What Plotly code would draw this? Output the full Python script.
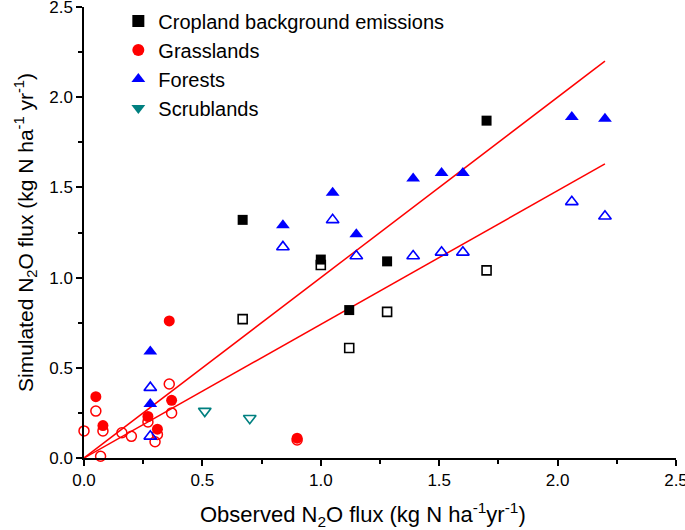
import plotly.graph_objects as go

# ---- data ----
crop_obs = [0.67, 1.00, 1.12, 1.28, 1.70]
crop_sim_filled = [1.32, 1.10, 0.82, 1.09, 1.87]
crop_sim_open = [0.77, 1.07, 0.61, 0.81, 1.04]

grass_obs_filled = [0.05, 0.08, 0.27, 0.31, 0.36, 0.37, 0.90]
grass_sim_filled = [0.34, 0.18, 0.23, 0.16, 0.76, 0.32, 0.11]
grass_obs_open = [0.00, 0.05, 0.08, 0.07, 0.16, 0.20, 0.27, 0.30, 0.31, 0.36, 0.37, 0.90]
grass_sim_open = [0.15, 0.26, 0.15, 0.01, 0.14, 0.12, 0.20, 0.09, 0.13, 0.41, 0.25, 0.10]

forest_obs = [0.28, 0.28, 0.84, 1.05, 1.15, 1.39, 1.51, 1.60, 2.06, 2.20]
forest_sim_filled = [0.59, 0.30, 1.29, 1.47, 1.24, 1.55, 1.58, 1.58, 1.89, 1.88]
forest_sim_open = [0.39, 0.12, 1.17, 1.32, 1.12, 1.12, 1.14, 1.14, 1.42, 1.34]

scrub_obs = [0.51, 0.70]
scrub_sim = [0.26, 0.22]

fit_x = [0.0, 2.2]
fit1_y = [0.0, 2.2]
fit2_y = [0.0, 1.63]

tick_vals = [0.0, 0.5, 1.0, 1.5, 2.0, 2.5]
tick_text = ["0.0", "0.5", "1.0", "1.5", "2.0", "2.5"]

x_title = "Observed N<sub>2</sub>O flux (kg N ha<sup>-1</sup>yr<sup>-1</sup>)"
y_title = "Simulated N<sub>2</sub>O flux (kg N ha<sup>-1</sup> yr<sup>-1</sup>)"

RED = "#ff0000"
BLUE = "#0000ff"
TEAL = "#008080"
FONT = "Liberation Sans, Arial, sans-serif"

fig = go.Figure()

# regression lines
fig.add_trace(go.Scatter(x=fit_x, y=fit1_y, mode="lines", line=dict(color=RED, width=1.5),
                         showlegend=False, hoverinfo="skip"))
fig.add_trace(go.Scatter(x=fit_x, y=fit2_y, mode="lines", line=dict(color=RED, width=1.5),
                         showlegend=False, hoverinfo="skip"))

# Cropland
fig.add_trace(go.Scatter(x=crop_obs, y=crop_sim_open, mode="markers", showlegend=False,
                         marker=dict(symbol="square-open", size=9, color="black", line=dict(width=1.6, color="black"))))
fig.add_trace(go.Scatter(x=crop_obs, y=crop_sim_filled, mode="markers", name="Cropland background emissions",
                         marker=dict(symbol="square", size=10, color="black")))

# Grasslands
fig.add_trace(go.Scatter(x=grass_obs_filled, y=grass_sim_filled, mode="markers", name="Grasslands",
                         marker=dict(symbol="circle", size=11, color=RED), cliponaxis=False))
fig.add_trace(go.Scatter(x=grass_obs_open, y=grass_sim_open, mode="markers", showlegend=False,
                         marker=dict(symbol="circle-open", size=10, color=RED, line=dict(width=1.5, color=RED)),
                         cliponaxis=False))

# Forests
fig.add_trace(go.Scatter(x=forest_obs, y=forest_sim_filled, mode="markers", name="Forests",
                         marker=dict(symbol="triangle-up", size=12, color=BLUE)))
fig.add_trace(go.Scatter(x=forest_obs, y=forest_sim_open, mode="markers", showlegend=False,
                         marker=dict(symbol="triangle-up-open", size=11, color=BLUE, line=dict(width=1.6, color=BLUE))))

# Scrublands
fig.add_trace(go.Scatter(x=scrub_obs, y=scrub_sim, mode="markers", showlegend=False,
                         marker=dict(symbol="triangle-down-open", size=11, color=TEAL, line=dict(width=1.6, color=TEAL))))
fig.add_trace(go.Scatter(x=[None], y=[None], mode="markers", name="Scrublands",
                         marker=dict(symbol="triangle-down", size=12, color=TEAL)))

axis_common = dict(
    range=[0, 2.5], tickvals=tick_vals, ticktext=tick_text,
    showgrid=False, zeroline=False, showline=True, linecolor="black", linewidth=1.5,
    ticks="outside", ticklen=6, tickwidth=1.5, tickcolor="black",
    minor=dict(dtick=0.25, ticks="outside", ticklen=4, tickwidth=1.5, tickcolor="black"),
    tickfont=dict(family=FONT, size=17, color="black"),
    automargin=False, ticklabeloverflow="allow",
)

fig.update_layout(
    width=685, height=530,
    margin=dict(l=84, r=9, t=7, b=72, autoexpand=False),
    paper_bgcolor="white", plot_bgcolor="white",
    font=dict(family=FONT, color="black"),
    xaxis=dict(**axis_common),
    yaxis=dict(**axis_common,
               title=dict(text=y_title, font=dict(family=FONT, size=21), standoff=10)),
    legend=dict(x=0.058, y=1.012, xanchor="left", yanchor="top",
                font=dict(family=FONT, size=20), bgcolor="rgba(0,0,0,0)",
                itemsizing="constant", tracegroupgap=0),
    showlegend=True,
    annotations=[dict(text=x_title, xref="paper", yref="paper", x=0.471, y=-0.126,
                      xanchor="center", yanchor="middle", showarrow=False,
                      font=dict(family=FONT, size=22, color="black"))],
)

fig.write_html("out.html", config={"displayModeBar": False},
               post_script="document.body.style.margin='0';")
